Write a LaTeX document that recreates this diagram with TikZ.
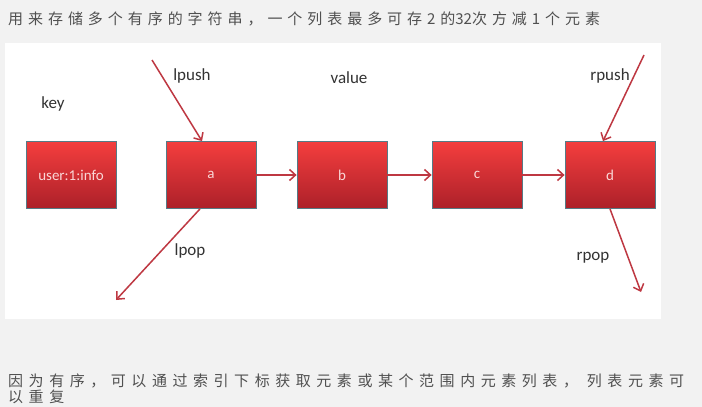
\documentclass[tikz,border=0pt]{standalone}
\usepackage{fontspec}
\setmainfont{Carlito}
\newfontfamily\cjk{Noto Sans CJK SC}
\usetikzlibrary{arrows.meta}
\definecolor{bgcol}{HTML}{F2F2F2}
\definecolor{boxtop}{HTML}{F43E3E}
\definecolor{boxbot}{HTML}{AC2029}
\definecolor{boxborder}{HTML}{557A86}
\definecolor{boxtext}{HTML}{FAD6D6}
\definecolor{arrowred}{HTML}{BE3842}
\definecolor{labelgray}{HTML}{333333}
\definecolor{cjkgray}{HTML}{505050}
\newcommand{\nols}[1]{{\addfontfeature{LetterSpace=0}#1}}
\begin{document}
\begin{tikzpicture}[x=1pt,y=-1pt,
  box/.style={draw=boxborder, line width=0.8pt, top color=boxtop, bottom color=boxbot,
    minimum width=90pt, minimum height=67pt, inner sep=0pt, text=boxtext,
    font=\fontsize{15}{17}\selectfont},
  arr/.style={draw=arrowred, line width=1.5pt, -{Straight Barb[length=6pt,width=11pt]}},
  lbl/.style={text=labelgray, font=\fontsize{17}{19}\selectfont, inner sep=0pt},
  cjktext/.style={text=cjkgray, anchor=west, inner sep=0pt,
    font=\cjk\fontsize{15}{17}\selectfont\addfontfeature{LetterSpace=33}},
  cjknote/.style={cjktext, font=\cjk\fontsize{15}{17}\selectfont\addfontfeature{LetterSpace=37}}]
\useasboundingbox (0,0) rectangle (702,407);
\fill[bgcol] (0,0) rectangle (702,407);
\fill[white] (5,43) rectangle (661,319);
\node[cjktext] (title) at (8,19) {用来存储多个有序的字符串，一个列表最多可存2的\nols{32}次方减1个元素};
\node[cjknote] (note1) at (8,381) {因为有序，可以通过索引下标获取元素或某个范围内元素列表， 列表元素可};
\node[cjknote] (note2) at (8,397) {以重复};
\node[box] (user) at (71,175) {user:1:info};
\node[box] (a) at (211,175) {a};
\node[box] (b) at (342,175) {b};
\node[box] (c) at (477,175) {c};
\node[box] (d) at (610,175) {d};
\node[lbl] (key) at (53,104) {key};
\node[lbl] (lpush) at (192,76) {lpush};
\node[lbl] (value) at (349,78) {value};
\node[lbl] (rpush) at (610,76) {rpush};
\node[lbl] (lpop) at (190,251) {lpop};
\node[lbl] (rpop) at (593,258) {rpop};
\coordinate (lps) at (152,60);
\coordinate (rps) at (644,55);
\coordinate (lpe) at (116,300);
\coordinate (rpe) at (641,292);
\draw[arr] (lps) -- ([xshift=-9pt]a.north);
\draw[arr] (rps) -- ([xshift=-7pt]d.north);
\draw[arr] ([xshift=-11pt]a.south) -- (lpe);
\draw[arr] (d.south) -- (rpe);
\draw[arr] (a.east) -- (b.west);
\draw[arr] (b.east) -- (c.west);
\draw[arr] (c.east) -- (d.west);
\end{tikzpicture}
\end{document}
